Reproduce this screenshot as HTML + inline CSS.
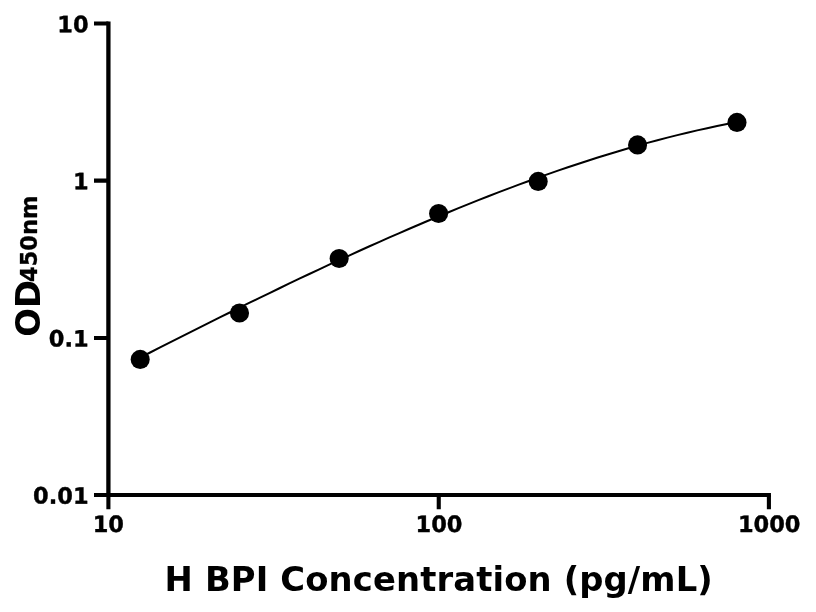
<!DOCTYPE html>
<html><head><meta charset="utf-8"><title>H BPI Concentration</title>
<style>
html,body{margin:0;padding:0;background:#fff;}
svg{display:block;}
text{font-family:"DejaVu Sans","Liberation Sans",sans-serif;font-weight:bold;fill:#000;}
.t{font-size:22.5px;stroke:#000;stroke-width:0.4px;stroke-linejoin:round;}
.l{font-size:33.8px;}
</style></head><body>
<svg width="816" height="612" viewBox="0 0 816 612">
<rect width="816" height="612" fill="#fff"/>
<g stroke="#000" stroke-width="4.1" fill="none" stroke-linecap="butt">
<path d="M108.4,21.45 V497.05" stroke-width="4.3"/>
<path d="M106.25,495 H770.95"/>
<path d="M94,23.5 H108.4 M94,180.6 H108.4 M94,338 H108.4 M94,495 H108.4"/>
<path d="M108.4,495 V509.3 M438.75,495 V509.3 M768.9,495 V509.3"/>
</g>
<path d="M140.20,357.56 L150.15,352.49 L160.09,347.42 L170.04,342.37 L179.99,337.34 L189.93,332.33 L199.88,327.34 L209.83,322.37 L219.77,317.42 L229.72,312.49 L239.67,307.59 L249.61,302.71 L259.56,297.85 L269.51,293.03 L279.45,288.23 L289.40,283.46 L299.35,278.72 L309.29,274.02 L319.24,269.35 L329.19,264.71 L339.13,260.10 L349.08,255.54 L359.03,251.01 L368.97,246.52 L378.92,242.07 L388.87,237.67 L398.81,233.31 L408.76,228.99 L418.71,224.72 L428.65,220.50 L438.60,216.33 L448.55,212.21 L458.49,208.14 L468.44,204.12 L478.39,200.16 L488.33,196.26 L498.28,192.42 L508.23,188.63 L518.17,184.91 L528.12,181.25 L538.07,177.65 L548.01,174.13 L557.96,170.67 L567.91,167.28 L577.85,163.96 L587.80,160.71 L597.75,157.54 L607.69,154.45 L617.64,151.44 L627.59,148.50 L637.53,145.65 L647.48,142.88 L657.43,140.20 L667.37,137.61 L677.32,135.10 L687.27,132.69 L697.21,130.37 L707.16,128.15 L717.11,126.02 L727.05,123.99 L737.00,122.07" stroke="#000" stroke-width="2.0" fill="none"/>
<g fill="#000">
<circle cx="140.2" cy="359.4" r="9.55"/>
<circle cx="239.5" cy="313.0" r="9.55"/>
<circle cx="339.15" cy="258.5" r="9.55"/>
<circle cx="438.6" cy="213.5" r="9.55"/>
<circle cx="538.2" cy="181.4" r="9.55"/>
<circle cx="637.55" cy="144.9" r="9.55"/>
<circle cx="737.0" cy="122.4" r="9.55"/>
</g>
<g class="t" text-anchor="end">
<text transform="translate(88.6,32.15) rotate(0.03)">10</text>
<text transform="translate(88.6,189.3) rotate(0.03)">1</text>
<text transform="translate(88.6,346.45) rotate(0.03)">0.1</text>
<text transform="translate(88.6,503.65) rotate(0.03)">0.01</text>
</g>
<g class="t" text-anchor="middle">
<text transform="translate(108.3,532.05) rotate(0.03)">10</text>
<text transform="translate(439.0,532.05) rotate(0.03)">100</text>
<text transform="translate(769.2,532.05) rotate(0.03)">1000</text>
</g>
<text class="l" transform="translate(164.6,591) rotate(0.02)" style="letter-spacing:0.13px">H BPI Concentration (pg/mL)</text>
<text class="l" transform="translate(39.5,336.7) rotate(-90)">OD</text>
<text class="t" style="stroke-width:0.3px" transform="translate(37.25,282.0) rotate(-90)">450nm</text>
</svg>
</body></html>
